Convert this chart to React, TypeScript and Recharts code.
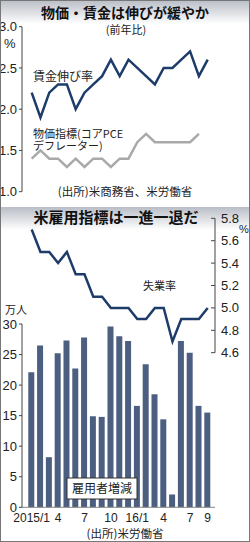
import React from 'react';
import { ComposedChart, LineChart, BarChart, Line, Bar, XAxis, YAxis } from 'recharts';

const months = ['2015/1','2015/2','2015/3','2015/4','2015/5','2015/6','2015/7','2015/8','2015/9','2015/10','2015/11','2015/12','2016/1','2016/2','2016/3','2016/4','2016/5','2016/6','2016/7','2016/8','2016/9'];
const wageGrowth = [2.2,1.9,2.2,2.3,2.3,2.0,2.2,2.3,2.4,2.6,2.4,2.6,2.5,2.4,2.3,2.5,2.5,2.6,2.7,2.4,2.6];
const corePCE = [1.4,1.5,1.4,1.4,1.3,1.4,1.3,1.4,1.4,1.3,1.4,1.4,1.6,1.7,1.6,1.6,1.6,1.6,1.6,1.7,null];
const unemployment = [5.7,5.5,5.5,5.4,5.5,5.3,5.3,5.1,5.1,5.0,5.0,5.0,4.9,4.9,5.0,5.0,4.7,4.9,4.9,4.9,5.0];
const payrolls = [22.1,26.5,8.2,25.2,27.3,22.7,27.8,14.9,14.8,29.6,28.0,27.2,16.6,23.4,18.5,14.4,2.1,27.2,25.3,16.6,15.5];

const xTickIdx = [0,3,6,9,12,15,18,20];
const xTickLabels = ['2015/1','4','7','10','16/1','4','7','9'];
const topTicks = [1.0,1.5,2.0,2.5,3.0];
const rightTicks = [4.6,4.8,5.0,5.2,5.4,5.6,5.8];
const barTicks = [0,5,10,15,20,25,30];

const data = months.map((m, i) => ({
  i,
  m,
  wage: wageGrowth[i],
  pce: corePCE[i],
  unemp: unemployment[i],
  pay: payrolls[i],
}));

const NUM = '"Liberation Sans Narrow", "Liberation Sans", Arial, sans-serif';
const JP = '"Noto Sans CJK JP", "Noto Sans", sans-serif';
const NAVY = '#1d3c6a';
const GRAY = '#a9a9a9';
const BAR = '#4c5f80';
const AX = '#444';
const XDOM: [number, number] = [-1.1, 20.83];

const RightTick = (props: any) => {
  const { x, y, payload } = props;
  return (
    <g>
      <line x1={x - 4} x2={x} y1={y} y2={y} stroke={AX} strokeWidth={1} />
      <text x={x + 6} y={y} dy={4.5} fontSize={13} fontFamily={NUM} fill="#222" textAnchor="start">
        {Number(payload.value).toFixed(1)}
      </text>
    </g>
  );
};

const tickStyle = { fontSize: 13, fontFamily: NUM, fill: '#222' };
const xTickStyle = { fontSize: 12, fontFamily: NUM, fill: '#222' };

export default function App() {
  return (
    <div style={{ position: 'absolute', left: 0, top: 0, width: 250, height: 542, background: '#fff', overflow: 'hidden' }}>
      <svg width={250} height={542} style={{ position: 'absolute', left: 0, top: 0 }}>
        <defs>
          <linearGradient id="band" x1="0" y1="0" x2="0" y2="1">
            <stop offset="0" stopColor="#b9bdc6" />
            <stop offset="1" stopColor="#ffffff" />
          </linearGradient>
        </defs>
        <rect x={0} y={0} width={250} height={24} fill="url(#band)" />
        <rect x={0} y={207} width={250} height={23} fill="url(#band)" />
      </svg>

      <div style={{ position: 'absolute', left: 0, top: 0 }}>
        <ComposedChart width={250} height={200} data={data} margin={{ top: 26.7, right: 35, bottom: 8.3, left: 0 }}>
          <XAxis dataKey="i" type="number" domain={XDOM} hide />
          <YAxis
            width={22}
            domain={[1, 3]}
            ticks={topTicks}
            tickFormatter={(v: number) => v.toFixed(1)}
            tick={tickStyle}
            tickSize={3}
            tickMargin={2}
            axisLine={{ stroke: AX }}
            tickLine={{ stroke: AX }}
            interval={0}
          />
          <Line dataKey="pce" type="linear" stroke={GRAY} strokeWidth={2.5} dot={false} isAnimationActive={false} />
          <Line dataKey="wage" type="linear" stroke={NAVY} strokeWidth={2.5} dot={false} isAnimationActive={false} />
        </ComposedChart>
      </div>

      <div style={{ position: 'absolute', left: 0, top: 300 }}>
        <BarChart width={250} height={242} data={data} margin={{ top: 24, right: 35, bottom: 0, left: 0 }}>
          <XAxis
            dataKey="i"
            type="number"
            domain={XDOM}
            ticks={xTickIdx}
            interval={0}
            tickFormatter={(v: number) => xTickLabels[xTickIdx.indexOf(v)] ?? ''}
            tick={xTickStyle}
            height={34.7}
            tickSize={0}
            tickMargin={6}
            axisLine={{ stroke: '#888' }}
            tickLine={false}
          />
          <YAxis
            width={22}
            domain={[0, 30]}
            ticks={barTicks}
            tick={tickStyle}
            tickSize={3}
            tickMargin={2}
            axisLine={{ stroke: AX }}
            tickLine={{ stroke: AX }}
            interval={0}
          />
          <Bar dataKey="pay" fill={BAR} barSize={6} isAnimationActive={false} />
        </BarChart>
      </div>

      <div style={{ position: 'absolute', left: 0, top: 200 }}>
        <LineChart width={250} height={170} data={data} margin={{ top: 18.3, right: 0, bottom: 17.3, left: 22 }}>
          <XAxis dataKey="i" type="number" domain={XDOM} hide />
          <YAxis
            orientation="right"
            width={35}
            domain={[4.6, 5.8]}
            ticks={rightTicks}
            tick={<RightTick />}
            tickSize={0}
            tickMargin={0}
            tickLine={false}
            axisLine={{ stroke: AX }}
            interval={0}
          />
          <Line dataKey="unemp" type="linear" stroke={NAVY} strokeWidth={2.5} dot={false} isAnimationActive={false} />
        </LineChart>
      </div>

      <svg width={250} height={542} style={{ position: 'absolute', left: 0, top: 0, pointerEvents: 'none' }}>
        <text x={125} y={18} textAnchor="middle" fontFamily={JP} fontWeight={700} fontSize={14} fill="#111">物価・賃金は伸びが緩やか</text>
        <text x={126} y={34} textAnchor="middle" fontFamily={JP} fontSize={11} fill="#222">(前年比)</text>
        <text x={4} y={48} fontFamily={NUM} fontSize={13} fill="#222">%</text>
        <text x={33} y={81} fontFamily={JP} fontSize={12} fill="#222">賃金伸び率</text>
        <text x={33} y={137.5} fontFamily={JP} fontSize={11} fill="#222">物価指標(コアPCE</text>
        <text x={33} y={149.5} fontFamily={JP} fontSize={11} fill="#222">デフレーター)</text>
        <text x={125} y={196} textAnchor="middle" fontFamily={JP} fontSize={11.5} fill="#222">(出所)米商務省、米労働省</text>

        <text x={116} y={223} textAnchor="middle" fontFamily={JP} fontWeight={700} fontSize={15} fill="#111">米雇用指標は一進一退だ</text>
        <text x={239} y={233} fontFamily={NUM} fontSize={11} fill="#222">%</text>
        <text x={143} y={290} fontFamily={JP} fontSize={11} fill="#222">失業率</text>
        <text x={5} y={314} fontFamily={JP} fontSize={11} fill="#222">万人</text>

        <rect x={67} y={478} width={70} height={21} fill="#fff" stroke="#333" strokeWidth={1} />
        <text x={102} y={493} textAnchor="middle" fontFamily={JP} fontSize={12} fill="#222">雇用者増減</text>
        <text x={125} y={538} textAnchor="middle" fontFamily={JP} fontSize={11.5} fill="#222">(出所)米労働省</text>

        <rect x={0.5} y={0.5} width={249} height={541} fill="none" stroke="#777" strokeWidth={1} />
      </svg>
    </div>
  );
}
